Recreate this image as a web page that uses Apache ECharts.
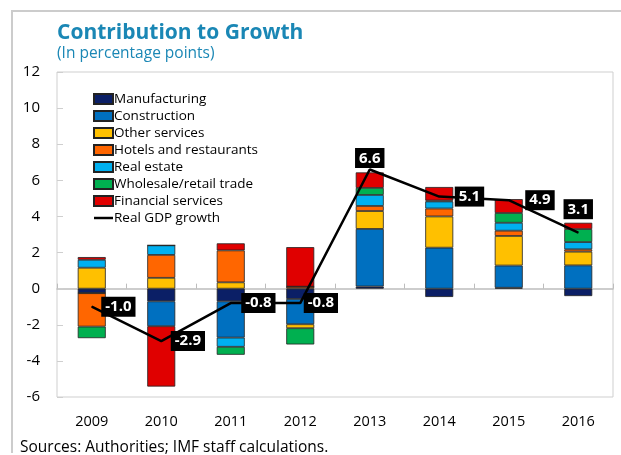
<!DOCTYPE html>
<html>
<head>
<meta charset="utf-8">
<script src="https://cdn.jsdelivr.net/npm/echarts@6/dist/echarts.min.js"></script>
<style>
  html, body { margin: 0; padding: 0; background: #fff; }
  #chart { width: 621px; height: 455px; }
</style>
</head>
<body>
<div id="chart"></div>
<script>
// categories and contributions (percentage points)
var years = ["2009", "2010", "2011", "2012", "2013", "2014", "2015", "2016"];
var manufacturing = [-0.25, -0.7, -0.7, -0.57, 0.12, -0.46, 0.05, -0.41];
var construction = [0, -1.38, -2.01, -1.4, 3.19, 2.27, 1.23, 1.29];
var otherServices = [1.16, 0.6, 0.35, -0.22, 0.99, 1.73, 1.64, 0.76];
var hotels = [-1.85, 1.27, 1.77, 0.11, 0.28, 0.44, 0.29, 0.13];
var realEstate = [0.44, 0.53, -0.51, 0, 0.61, 0.39, 0.44, 0.4];
var wholesale = [-0.64, 0, -0.44, -0.9, 0.39, 0.05, 0.54, 0.72];
var financial = [0.15, -3.34, 0.39, 2.19, 0.86, 0.75, 0.77, 0.35];
var gdpGrowth = [-1.0, -2.9, -0.8, -0.8, 6.6, 5.1, 4.9, 3.1];
var yTicks = [-6, -4, -2, 0, 2, 4, 6, 8, 10, 12];

var FONT = "Open Sans";

var barDefs = [
  ["Manufacturing", manufacturing, "#0B1F66"],
  ["Construction", construction, "#0070C0"],
  ["Other services", otherServices, "#FFC000"],
  ["Hotels and restaurants", hotels, "#FF6600"],
  ["Real estate", realEstate, "#00B0F0"],
  ["Wholesale/retail trade", wholesale, "#00B050"],
  ["Financial services", financial, "#E00000"]
];

// label placement for the GDP boxes
var labelPos = ["right", "right", "right", "right", "top", "right", "right", "top"];
var labelDist = [9, 9, 10, 3, 1, 15, 16, 13];

var series = barDefs.map(function (d) {
  return {
    name: d[0],
    type: "bar",
    stack: "total",
    barWidth: 28,
    data: d[1],
    itemStyle: { color: d[2], borderColor: "#222", borderWidth: 0.8 }
  };
});

series.push({
  name: "Real GDP growth",
  type: "line",
  data: gdpGrowth.map(function (v, i) {
    return {
      value: v,
      label: { position: labelPos[i], distance: labelDist[i] }
    };
  }),
  symbol: "circle",
  symbolSize: 1,
  itemStyle: { color: "#000" },
  lineStyle: { color: "#000", width: 2.5 },
  z: 5,
  label: {
    show: true,
    formatter: function (p) { return p.value.toFixed(1); },
    color: "#fff",
    backgroundColor: "#000",
    fontFamily: FONT,
    fontWeight: "bold",
    fontSize: 15,
    padding: [3, 4, 2, 4]
  }
});

var chart = echarts.init(document.getElementById("chart"));
chart.setOption({
  animation: false,
  textStyle: { fontFamily: FONT },
  title: {
    text: "Contribution to Growth",
    subtext: "(In percentage points)",
    left: 52,
    top: 18,
    itemGap: 2,
    textStyle: { color: "#1A87B5", fontSize: 21, fontWeight: "bold", fontFamily: FONT },
    subtextStyle: { color: "#1A87B5", fontSize: 15.5, fontFamily: FONT }
  },
  grid: {
    left: 57, right: 8, top: 72, bottom: 58,
    show: true, borderColor: "#cfcfcf", borderWidth: 1
  },
  legend: {
    orient: "vertical",
    left: 93,
    top: 92,
    padding: 0,
    itemWidth: 19,
    itemHeight: 10,
    itemGap: 3,
    textStyle: { fontSize: 13.5, color: "#000", fontFamily: FONT, padding: [0, 0, 0, -4] },
    data: barDefs.map(function (d) { return { name: d[0], icon: "rect" }; })
      .concat([{ name: "Real GDP growth", icon: "path://M0,0 M0,3.7 L20,3.7 L20,6.3 L0,6.3 Z M20,10" }])
  },
  xAxis: [
    {
      type: "category",
      data: years,
      position: "bottom",
      axisLine: { show: false, onZero: false },
      axisTick: { show: false },
      axisLabel: { color: "#000", fontSize: 14.5, margin: 17 }
    },
    {
      type: "category",
      data: years,
      position: "bottom",
      axisLine: { show: true, onZero: true, lineStyle: { color: "#bdbdbd", width: 1.5 } },
      axisTick: { show: true, inside: true, length: 5, lineStyle: { color: "#bdbdbd" } },
      axisLabel: { show: false }
    }
  ],
  yAxis: {
    type: "value",
    min: yTicks[0],
    max: yTicks[yTicks.length - 1],
    interval: 2,
    axisLine: { show: false },
    axisTick: { show: true, inside: true, length: 6, lineStyle: { color: "#cfcfcf" } },
    splitLine: { show: false },
    axisLabel: { color: "#000", fontSize: 15, margin: 17 }
  },
  graphic: [{
    type: "polyline",
    shape: { points: [[12, 453], [12, 11], [621, 11]] },
    style: { stroke: "#cccccc", lineWidth: 2, fill: null }
  }, {
    type: "text",
    left: 20,
    top: 440,
    style: { text: "Sources: Authorities; IMF staff calculations.", fontSize: 15.5, fill: "#000", fontFamily: FONT }
  }],
  series: series
});
</script>
</body>
</html>
